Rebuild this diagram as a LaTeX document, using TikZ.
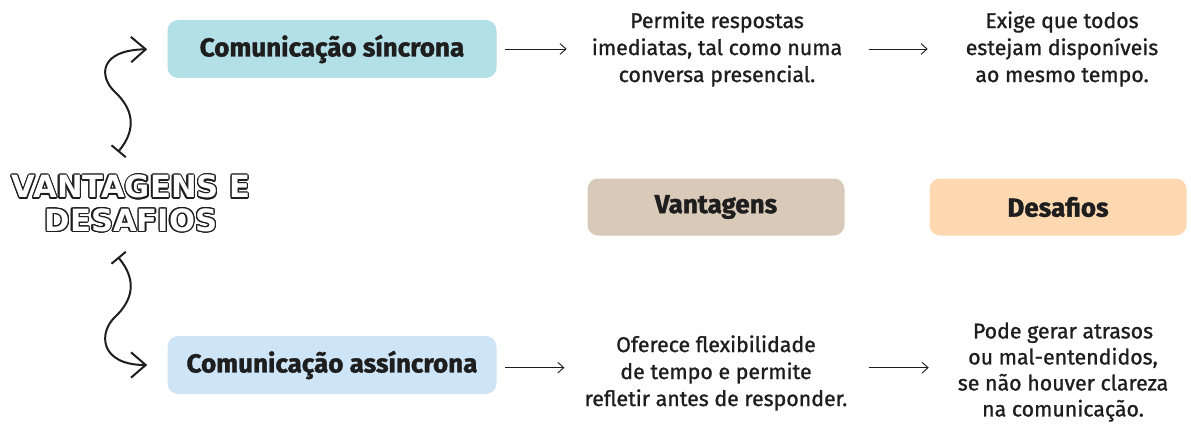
\documentclass[tikz,border=0pt]{standalone}
\usepackage{fontspec}
\setmainfont{Fira Sans}[UprightFeatures = {FakeBold = 1.1}, BoldFeatures = {FakeBold = 1.4}]
\newfontfamily\titlefont{DejaVu Sans Bold}
\usepackage{contour}
\contourlength{0.9pt}
\usepackage{tikz}
\usetikzlibrary{positioning}
\usetikzlibrary{shapes,calc,arrows.meta}
\definecolor{syncblue}{HTML}{B3DFE6}
\definecolor{asyncblue}{HTML}{CEE5F7}
\definecolor{vantbeige}{HTML}{D9C9B9}
\definecolor{desafpeach}{HTML}{FED8B1}
\definecolor{ink}{HTML}{1E1E1E}
\tikzset{
	x = 0.75pt, y = -0.75pt,
	box/.style = {rounded corners = 8pt, inner sep = 0pt, text = ink,
		font = \fontsize{19.5}{22}\selectfont\bfseries},
	topic/.style = {box, minimum width = 246.75pt, minimum height = 43.5pt},
	tag/.style = {box, minimum width = 192.75pt, minimum height = 42.75pt},
	txt/.style = {align = center, inner sep = 0pt, text = ink,
		minimum width = 195pt, font = \fontsize{16}{20.25}\selectfont},
	flow/.style = {-{Straight Barb[length=4.5pt, width=8pt]}, line width = 0.7pt, ink},
	wave/.style = {{Bar[width=14pt]}-{Straight Barb[length=11pt, width=19pt]},
		line width = 1.5pt, ink},
}
\begin{document}
\begin{tikzpicture}
	\useasboundingbox (0,0) rectangle (1191,424);
	% title
	\node (title) [align = center, font = \titlefont\fontsize{23}{25}\selectfont]
		at (131,204) {\contour{ink}{\textcolor{white}{VANTAGENS E}}\\
		\contour{ink}{\textcolor{white}{DESAFIOS}}};
	% topic boxes
	\node (sync) [topic, fill = syncblue] at (332,49) {Comunicação síncrona};
	\node (async) [topic, fill = asyncblue] at (332,365) {Comunicação assíncrona};
	\node (vant) [tag, fill = vantbeige] at (716,207) {Vantagens};
	\node (desaf) [tag, fill = desafpeach] at (1058,207) {Desafios};
	% texts
	\node (perm) [txt] at (717,49) {Permite respostas\\imediatas, tal como numa\\conversa presencial.};
	\node (exige) [txt] at (1062,49) {Exige que todos\\estejam disponíveis\\ao mesmo tempo.};
	\node (ofer) [txt] at (716,373) {Oferece flexibilidade\\de tempo e permite\\refletir antes de responder.};
	\node (pode) [txt, font = \fontsize{16}{19.5}\selectfont] at (1063,372)
		{Pode gerar atrasos\\ou mal-entendidos,\\se não houver clareza\\na comunicação.};
	% arrows
	\draw[flow, shorten < = 6pt, shorten > = 15pt] (sync.east) -- (perm.west);
	\draw[flow, shorten < = 16pt, shorten > = 3pt] (perm.east) -- (exige.west);
	\draw[flow, shorten < = 6pt, shorten > = 15pt] ([yshift=-2pt]async.east) -- ([yshift=-2pt]async.east -| ofer.west);
	\draw[flow, shorten < = 16pt, shorten > = 3pt] ([yshift=-2pt]async.east -| ofer.east) -- ([yshift=-2pt]async.east -| pode.west);
	% wavy connectors
	\coordinate (uptail) at (118,152);
	\coordinate (lowtail) at (118,257);
	\draw[wave, shorten > = 15pt] (uptail) .. controls (138,128) and (132,108) .. (115,92)
		.. controls (98,76) and (100,50) .. (sync.west);
	\draw[wave, shorten > = 15pt] (lowtail) .. controls (138,281) and (132,301) .. (115,317)
		.. controls (98,333) and (100,365) .. (async.west);
\end{tikzpicture}
\end{document}
